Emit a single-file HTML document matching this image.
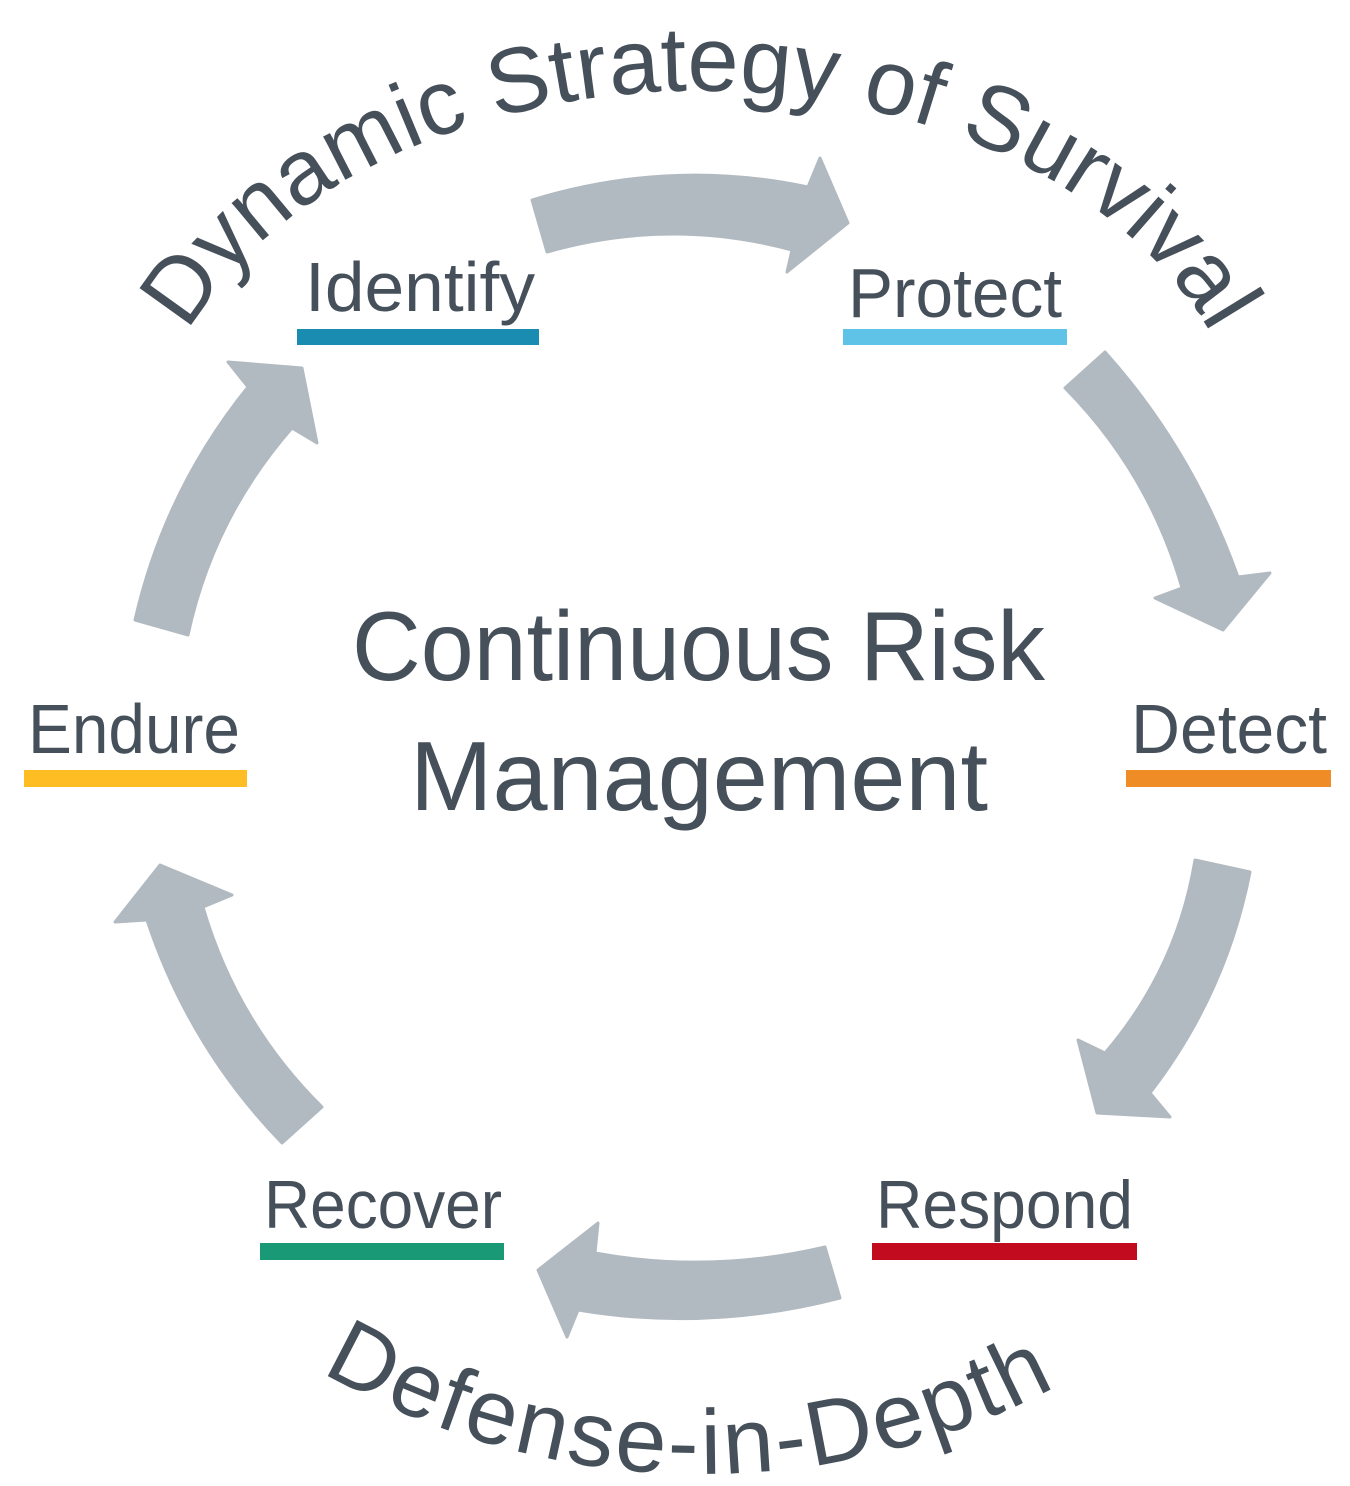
<!DOCTYPE html>
<html>
<head>
<meta charset="utf-8">
<style>
  html, body { margin: 0; padding: 0; background: #ffffff; }
  svg { display: block; }
  .t { font-family: "Liberation Sans", Arial, sans-serif; fill: #46505a; }
</style>
</head>
<body>
<svg width="1350" height="1486" viewBox="0 0 1350 1486" xmlns="http://www.w3.org/2000/svg">
  <rect x="0" y="0" width="1350" height="1486" fill="#ffffff"/>
  <defs>
    <path id="topArc" d="M 188 332 A 552 388 0 0 1 1210 332" fill="none"/>
    <path id="botArc" d="M 321.5 1372 A 761 761 0 0 0 1043.8 1392.8" fill="none"/>
  </defs>

  <!-- Arrows -->
  <g fill="#b1b9c1" stroke="#b1b9c1" stroke-width="3" stroke-linejoin="round">
    <!-- Identify -> Protect -->
    <path d="M 532 200 Q 670 158 808 187 L 820 158 L 848 223 L 787 272 L 792 250 Q 670 217 547 252 Z"/>
    <!-- Protect -> Detect -->
    <path d="M 1105 352 Q 1192.5 449.5 1238 577 L 1270 573 L 1223 630 L 1155 598 L 1182 588 Q 1149 473 1065 388 Z"/>
    <!-- Detect -> Respond -->
    <path d="M 1250 872 Q 1226 994.5 1150 1093 L 1170 1117 L 1097 1113 L 1078 1040 L 1105 1053 Q 1177 969 1195 860 Z"/>
    <!-- Respond -> Recover -->
    <path d="M 825 1247 Q 710 1274 595 1253 L 598 1223 L 538 1270 L 567 1337 L 578 1310 Q 709 1332 840 1298 Z"/>
    <!-- Recover -> Endure -->
    <path d="M 322 1107 Q 236.7 1022.4 203 907 L 232 895 L 160 865 L 115 922 L 147 920 Q 189 1047 282 1143 Z"/>
    <!-- Endure -> Identify -->
    <path d="M 135 620 Q 164.5 490.5 248 387 L 228 362 L 302 368 L 317 443 L 292 428 Q 213.2 518.1 188 635 Z"/>
  </g>

  <!-- Arc texts -->
  <text class="t" font-size="92"><textPath href="#topArc" startOffset="0">Dynamic Strategy of Survival</textPath></text>
  <text class="t" font-size="92" letter-spacing="3"><textPath href="#botArc" startOffset="0">Defense-in-Depth</textPath></text>

  <!-- Center text -->
  <text class="t" x="352" y="680" font-size="98" textLength="693" lengthAdjust="spacingAndGlyphs">Continuous Risk</text>
  <text class="t" x="410" y="810" font-size="98" textLength="578" lengthAdjust="spacingAndGlyphs">Management</text>

  <!-- Labels -->
  <text class="t" x="305" y="311" font-size="70" textLength="230" lengthAdjust="spacingAndGlyphs">Identify</text>
  <rect x="297" y="329" width="242" height="16" fill="#1b8cb1"/>

  <text class="t" x="848" y="317" font-size="70" textLength="214" lengthAdjust="spacingAndGlyphs">Protect</text>
  <rect x="843" y="329" width="224" height="16" fill="#5ec3e6"/>

  <text class="t" x="28" y="753" font-size="70" textLength="212" lengthAdjust="spacingAndGlyphs">Endure</text>
  <rect x="24" y="770" width="223" height="17" fill="#fdbd23"/>

  <text class="t" x="1131" y="753" font-size="70" textLength="196" lengthAdjust="spacingAndGlyphs">Detect</text>
  <rect x="1126" y="770" width="205" height="17" fill="#f08c26"/>

  <text class="t" x="264" y="1228" font-size="68" textLength="238" lengthAdjust="spacingAndGlyphs">Recover</text>
  <rect x="260" y="1243" width="244" height="17" fill="#1a9977"/>

  <text class="t" x="876" y="1228" font-size="68" textLength="257" lengthAdjust="spacingAndGlyphs">Respond</text>
  <rect x="872" y="1243" width="265" height="17" fill="#c20b1f"/>
</svg>
</body>
</html>
